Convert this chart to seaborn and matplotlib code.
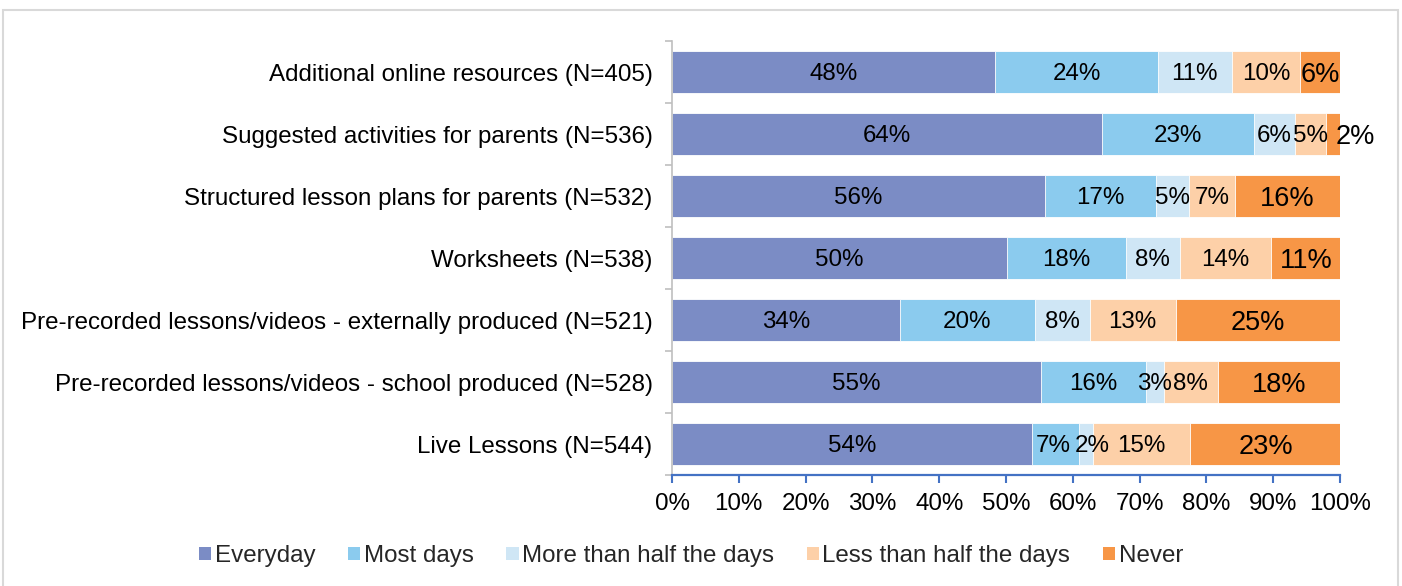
import numpy as np
import pandas as pd
import matplotlib
matplotlib.use("Agg")
import matplotlib.pyplot as plt
from matplotlib.patches import Patch, Rectangle
import seaborn as sns

categories = [
    "Additional online resources (N=405)",
    "Suggested activities for parents (N=536)",
    "Structured lesson plans for parents (N=532)",
    "Worksheets (N=538)",
    "Pre-recorded lessons/videos - externally produced (N=521)",
    "Pre-recorded lessons/videos - school produced (N=528)",
    "Live Lessons (N=544)",
]
series_names = ["Everyday", "Most days", "More than half the days",
                "Less than half the days", "Never"]
everyday = [48.4, 64.3, 55.8, 50.2, 34.1, 55.2, 53.9]
most_days = [24.3, 22.8, 16.6, 17.7, 20.2, 15.7, 7.0]
more_half = [11.1, 6.2, 5.0, 8.1, 8.2, 2.7, 2.1]
less_half = [10.2, 4.6, 6.9, 13.6, 12.9, 8.1, 14.6]
never = [6.0, 2.1, 15.7, 10.6, 24.6, 18.3, 22.6]
xtick_labels = ["0%", "10%", "20%", "30%", "40%", "50%", "60%", "70%", "80%", "90%", "100%"]

colors = ["#7B8CC5", "#8BCBEE", "#CFE6F5", "#FDD0A8", "#F79646"]

# small horizontal nudges (in % units) for crowded labels: (series, row) -> dx
label_nudge = {(2, 6): 1.0, (1, 6): -0.4}

sns.set_theme(style="white")
plt.rcParams["font.family"] = ["Liberation Sans", "DejaVu Sans"]

FS = 17.4
FS_NEVER = 19.5

values = np.array([everyday, most_days, more_half, less_half, never])
cum = np.cumsum(values, axis=0)

fig = plt.figure(figsize=(14.02, 5.86), dpi=100)
ax = fig.add_axes([672 / 1402, 1 - 475 / 586, (1340 - 672) / 1402, (475 - 41) / 586])

for k in range(len(series_names) - 1, -1, -1):
    df = pd.DataFrame({"cat": categories, "val": cum[k]})
    sns.barplot(data=df, x="val", y="cat", orient="h", color=colors[k],
                saturation=1, width=0.68, edgecolor="white", linewidth=0.6, ax=ax)

for k in range(len(series_names)):
    for i in range(len(categories)):
        v = values[k, i]
        start = cum[k, i] - v
        fs = FS_NEVER if k == 4 else FS
        lab = f"{v:.0f}%"
        if k == 4 and v < 3:
            ax.text(99.4, i, lab, ha="left", va="center_baseline", fontsize=fs,
                    color="black", clip_on=False)
        else:
            dx = label_nudge.get((k, i), 0.0)
            ax.text(start + v / 2 + dx, i, lab, ha="center", va="center_baseline",
                    fontsize=fs, color="black")

ax.set_xlim(0, 100)
ax.set_ylim(len(categories) - 0.5, -0.5)
ax.set_xticks(np.arange(0, 101, 10))
ax.set_xticklabels(xtick_labels, fontsize=FS, color="black")
ax.set_xlabel("")
ax.set_ylabel("")
ax.tick_params(axis="y", labelsize=FS, labelcolor="black", length=0, pad=14)
ax.tick_params(axis="x", length=6, width=1.5, color="#4472C4", direction="out", pad=7, bottom=True)
ax.set_yticks(np.arange(-0.5, len(categories), 1), minor=True)
ax.tick_params(axis="y", which="minor", length=5, width=1.2, color="#BFBFBF", left=True)

for s in ["top", "right"]:
    ax.spines[s].set_visible(False)
ax.spines["bottom"].set_color("#4472C4")
ax.spines["bottom"].set_linewidth(1.6)
ax.spines["left"].set_color("#BFBFBF")
ax.spines["left"].set_linewidth(1.2)
ax.grid(False)

handles = [Patch(facecolor=c, edgecolor="none", label=n) for c, n in zip(colors, series_names)]
fig.legend(handles=handles, loc="center", bbox_to_anchor=(0.493, 1 - 556 / 586), ncol=5,
           frameon=False, fontsize=FS, handlelength=0.5, handleheight=0.5,
           handletextpad=0.15, columnspacing=1.35)

fig.patches.append(Rectangle((3 / 1402, -0.01), 1395 / 1402, 1 - 10 / 586 + 0.01,
                             transform=fig.transFigure, fill=False,
                             edgecolor="#D9D9D9", linewidth=1.5))

fig.savefig("out.png", dpi=100)
